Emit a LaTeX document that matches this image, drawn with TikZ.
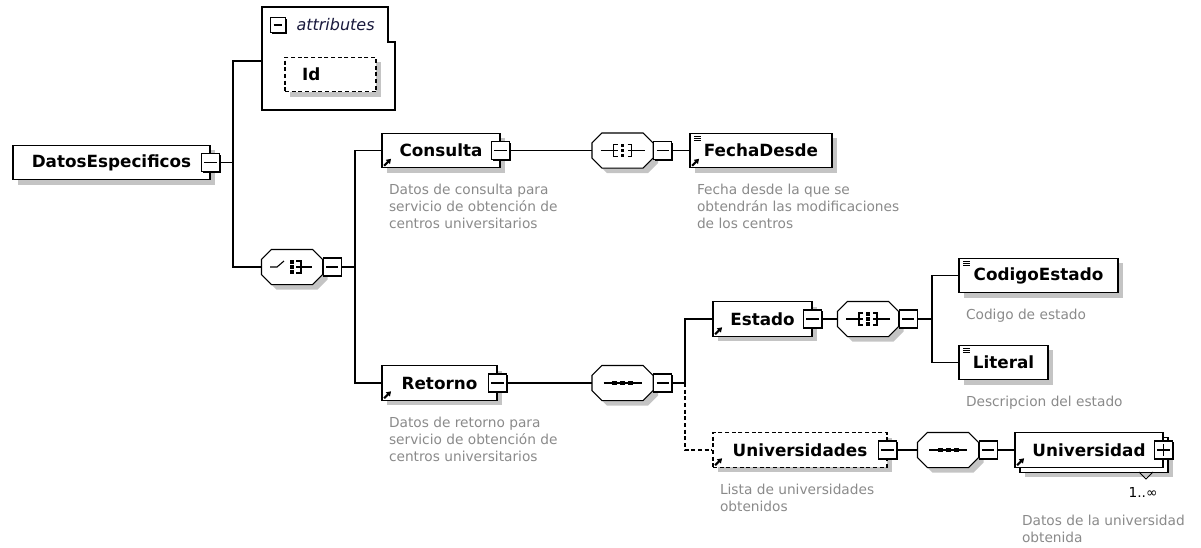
\documentclass[tikz,border=0pt]{standalone}
\usepackage{fontspec}
\setmainfont{DejaVu Sans}
\usetikzlibrary{positioning,shadows,arrows.meta}
\definecolor{descgray}{RGB}{138,138,138}
\definecolor{shadowgray}{RGB}{196,196,196}
\definecolor{attrblue}{RGB}{25,25,60}
\newcommand\elemfont{\fontsize{12.6}{15}\selectfont\bfseries}
\newcommand\descfont{\fontsize{10.3}{12.75}\selectfont}
% octagon box for the compositors
\makeatletter
\pgfdeclareshape{compobox}{
  \inheritsavedanchors[from=rectangle]
  \inheritanchorborder[from=rectangle]
  \inheritanchor[from=rectangle]{center}
  \inheritanchor[from=rectangle]{west}
  \inheritanchor[from=rectangle]{east}
  \inheritanchor[from=rectangle]{north}
  \inheritanchor[from=rectangle]{south}
  \backgroundpath{
    \southwest \pgf@xc=\pgf@x \pgf@yc=\pgf@y
    \northeast \pgf@xb=\pgf@x \pgf@yb=\pgf@y
    \pgfpathmoveto{\pgfpointadd{\pgfqpoint{\pgf@xc}{\pgf@yc}}{\pgfqpoint{0pt}{7.5pt}}}
    \pgfpathlineto{\pgfpointadd{\pgfqpoint{\pgf@xc}{\pgf@yc}}{\pgfqpoint{7.5pt}{0pt}}}
    \pgfpathlineto{\pgfpointadd{\pgfqpoint{\pgf@xb}{\pgf@yc}}{\pgfqpoint{-7.5pt}{0pt}}}
    \pgfpathlineto{\pgfpointadd{\pgfqpoint{\pgf@xb}{\pgf@yc}}{\pgfqpoint{0pt}{7.5pt}}}
    \pgfpathlineto{\pgfpointadd{\pgfqpoint{\pgf@xb}{\pgf@yb}}{\pgfqpoint{0pt}{-7.5pt}}}
    \pgfpathlineto{\pgfpointadd{\pgfqpoint{\pgf@xb}{\pgf@yb}}{\pgfqpoint{-7.5pt}{0pt}}}
    \pgfpathlineto{\pgfpointadd{\pgfqpoint{\pgf@xc}{\pgf@yb}}{\pgfqpoint{7.5pt}{0pt}}}
    \pgfpathlineto{\pgfpointadd{\pgfqpoint{\pgf@xc}{\pgf@yb}}{\pgfqpoint{0pt}{-7.5pt}}}
    \pgfpathclose
  }
}
\makeatother
\tikzset{
  box/.style={draw, fill=white, minimum height=26pt, inner sep=0pt, font=\elemfont},
  elem/.style={box, general shadow={shadow xshift=3.75pt, shadow yshift=-3.75pt, fill=shadowgray}},
  optelem/.style={elem, dash pattern=on 3pt off 2pt},
  desc/.style={font=\descfont, text=descgray, align=left, inner sep=0pt},
  minusbox/.style={draw, fill=white, minimum size=13.5pt, inner sep=0pt,
    general shadow={shadow xshift=0.9pt, shadow yshift=-0.9pt, fill=black},
    path picture={\draw[solid] ([xshift=2.2pt]path picture bounding box.west) -- ([xshift=-2.2pt]path picture bounding box.east);}},
  plusbox/.style={minusbox,
    path picture={\draw[solid] ([xshift=2.2pt]path picture bounding box.west) -- ([xshift=-2.2pt]path picture bounding box.east)
      ([yshift=-2.2pt]path picture bounding box.north) -- ([yshift=2.2pt]path picture bounding box.south);}},
  refarrow/.style={path picture={\draw[solid, black, line width=1.5pt, -{Triangle[length=3.4pt, width=4.2pt]}]
      ([shift={(1.6pt,1.6pt)}]path picture bounding box.south west) -- ++(5.2pt,5.2pt);}},
  simple/.style={path picture={\foreach \k in {1,2,3}
      \draw[line width=0.7pt] ([shift={(3pt,-0.4pt-\k*1.7pt)}]path picture bounding box.north west) -- ++(5.5pt,0pt);}},
  refsimple/.style={path picture={\foreach \k in {1,2,3}
      \draw[line width=0.7pt] ([shift={(3pt,-0.4pt-\k*1.7pt)}]path picture bounding box.north west) -- ++(5.5pt,0pt);
      \draw[black, line width=1.5pt, -{Triangle[length=3.4pt, width=4.2pt]}]
      ([shift={(1.6pt,1.6pt)}]path picture bounding box.south west) -- ++(5.2pt,5.2pt);}},
  compo/.style={compobox, draw, fill=white, minimum width=45pt, minimum height=25.5pt, inner sep=0pt,
    general shadow={shadow xshift=3.75pt, shadow yshift=-3.75pt, fill=shadowgray}},
  seqicon/.style={path picture={\begin{scope}[shift={(path picture bounding box.center)}]
      \draw (-19,0) -- (19,0);
      \foreach \d in {-8,0,8} \fill[black] (\d-2.5,-2) rectangle ++(5,4);
    \end{scope}}},
  allicon/.style={path picture={\begin{scope}[shift={(path picture bounding box.center)}]
      \draw (-22,0) -- (-9,0) (-5,-6) -- (-9,-6) -- (-9,6) -- (-5,6) (-9,0) -- (-5,0);
      \draw (22,0) -- (9,0) (5,-6) -- (9,-6) -- (9,6) -- (5,6) (9,0) -- (5,0);
      \foreach \d in {-5,0,5} \fill[black] (-1.75,\d-1.75) rectangle ++(3.5,3.5);
    \end{scope}}},
  choiceicon/.style={path picture={\begin{scope}[shift={(path picture bounding box.center)}]
      \draw (-22,0) -- (-15,0) -- (-8,-6);
      \draw (4,-6) -- (9,-6) -- (9,6) -- (4,6) (4,0) -- (20,0);
      \foreach \d in {-5,0,5} \fill[black] (-1.75,\d-1.75) rectangle ++(3.5,3.5);
    \end{scope}}},
}
\begin{document}
\begin{tikzpicture}[x=0.75pt, y=-0.75pt, line width=0.8pt]
\useasboundingbox (0,0) rectangle (1201,547);

% root element
\node[elem, minimum width=197*0.75pt] (root) at (111.5,162.5) {DatosEspecificos};
\node[minusbox] (rootm) at (root.east) {};

% attributes
\draw[fill=white] (262,7) -- (388,7) -- (388,42) -- (395,42) -- (395,110) -- (262,110) -- cycle;
\node[minusbox, minimum size=11pt] (attrm) at (278,25) {};
\node[font=\fontsize{12}{14}\selectfont\itshape, text=attrblue, anchor=west, inner sep=0pt] (attr) at (296,25) {attributes};
\coordinate (attrw) at (262,61);
\node[optelem, minimum width=91*0.75pt, text width=42.75pt, inner xsep=12.75pt, align=left] (id) at (330.5,74.5) {Id};

% choice
\node[compo, choiceicon] (cho) at (292,267) {};
\node[minusbox, right=0pt of cho] (chom) {};

% Consulta
\node[elem, refarrow, minimum width=118*0.75pt] (cons) at (441,150.5) {Consulta};
\node[minusbox] (consm) at (cons.east) {};
\node[desc, below right=11.5pt and 5.25pt of cons.south west] (consd) {Datos de consulta para\\servicio de obtención de\\centros universitarios};
\node[compo, allicon] (all1) at (622.5,150.5) {};
\node[minusbox, right=0pt of all1] (all1m) {};
\node[elem, refsimple, minimum width=142*0.75pt] (fecha) at (761,150.5) {FechaDesde};
\node[desc, below right=11.5pt and 5.25pt of fecha.south west] (fechad) {Fecha desde la que se\\obtendrán las modificaciones\\de los centros};

% Retorno
\node[elem, refarrow, minimum width=115*0.75pt] (ret) at (439.5,383) {Retorno};
\node[minusbox] (retm) at (ret.east) {};
\node[desc, below right=11.5pt and 5.25pt of ret.south west] (retd) {Datos de retorno para\\servicio de obtención de\\centros universitarios};
\node[compo, seqicon] (seq1) at (622.5,383) {};
\node[minusbox, right=0pt of seq1] (seq1m) {};

% Estado
\node[elem, refarrow, minimum width=99*0.75pt] (est) at (762.5,319) {Estado};
\node[minusbox] (estm) at (est.east) {};
\node[compo, allicon] (all2) at (868,319) {};
\node[minusbox, right=0pt of all2] (all2m) {};
\node[elem, simple, minimum width=159*0.75pt] (cod) at (1038.5,275.5) {CodigoEstado};
\node[desc, below right=11.5pt and 5.25pt of cod.south west] (codd) {Codigo de estado};
\node[elem, simple, minimum width=89*0.75pt] (lit) at (1003.5,362.5) {Literal};
\node[desc, below right=11.5pt and 5.25pt of lit.south west] (litd) {Descripcion del estado};

% Universidades
\node[optelem, refarrow, minimum width=174*0.75pt] (univs) at (800,450) {Universidades};
\node[minusbox] (univsm) at (univs.east) {};
\node[desc, below right=12pt and 5.25pt of univs.south west] (univsd) {Lista de universidades\\obtenidos};
\node[compo, seqicon] (seq2) at (948,450) {};
\node[minusbox, right=0pt of seq2] (seq2m) {};
\node[elem, minimum width=148*0.75pt] (univb) at (1094,455) {};
\node[box, refarrow, minimum width=148*0.75pt] (univ) at (1089,450) {Universidad};
\node[plusbox] (univp) at (univ.east) {};
\draw[line width=0.6pt] (1139,472) -- (1146,479) -- (1153,472);
\node[font=\descfont, inner sep=0pt] (univc) at (1143,492) {1..∞};
\node[desc, below right=35pt and 5.25pt of univ.south west] (univd) {Datos de la universidad\\obtenida};

% connectors
\coordinate (rootbus) at (233,162.5);
\coordinate (chobus) at (355,267);
\coordinate (retbus) at (685,383);
\coordinate (estbus) at (932,319);
\draw (rootm.east) -- (rootbus) |- (attrw);
\draw (rootbus) |- (cho.west);
\draw (chom.east) -- (chobus) |- (cons.west);
\draw (chobus) |- (ret.west);
\draw (consm.east) -- (all1.west);
\draw (all1m.east) -- (fecha.west);
\draw (retm.east) -- (seq1.west);
\draw (seq1m.east) -- (retbus) |- (est.west);
\draw[dash pattern=on 3pt off 2pt] (retbus) |- (univs.west);
\draw (estm.east) -- (all2.west);
\draw (all2m.east) -- (estbus) |- (cod.west);
\draw (estbus) |- (lit.west);
\draw (univsm.east) -- (seq2.west);
\draw (seq2m.east) -- (univ.west);
\end{tikzpicture}
\end{document}
